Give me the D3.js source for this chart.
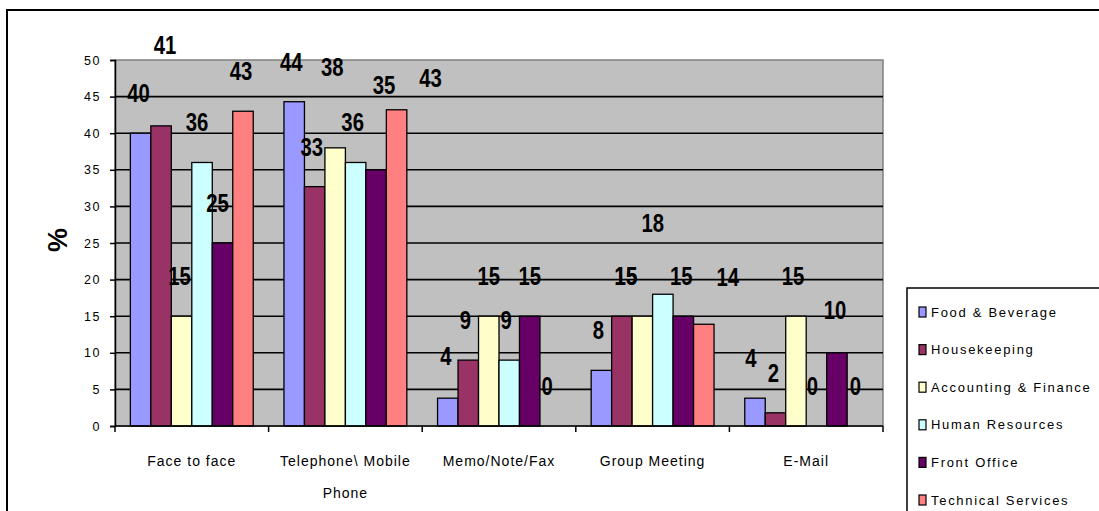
<!DOCTYPE html>
<html>
<head>
<meta charset="utf-8">
<script src="https://cdn.jsdelivr.net/npm/d3@7"></script>
<style>
  html, body { margin: 0; padding: 0; background: #fff; }
  svg { display: block; }
</style>
</head>
<body>
<svg id="chart" width="1099" height="511"></svg>
<script>
// ---- data ----
const categories = ["Face to face", "Telephone\\ Mobile Phone", "Memo/Note/Fax", "Group Meeting", "E-Mail"];
const seriesNames = ["Food & Beverage", "Housekeeping", "Accounting & Finance", "Human Resources", "Front Office", "Technical Services"];
const foodBeverage   = [40, 44.3, 3.8, 7.6, 3.8];
const housekeeping   = [41, 32.7, 9, 15, 1.8];
const accounting     = [15, 38, 15, 15, 15];
const humanResources = [36, 36, 9, 18, 0];
const frontOffice    = [25, 35, 15, 15, 10];
const technical      = [43, 43.2, 0, 13.9, 0];
const yTicks = [0, 5, 10, 15, 20, 25, 30, 35, 40, 45, 50];

// ---- styling / layout (not data) ----
const seriesColors = ["#9999ff", "#993366", "#ffffcc", "#ccffff", "#660066", "#ff8080"];
// label nudges [dx, dy] in px per series x category (odd Excel label placement)
const labelNudge = [
  [[0,0],[-1,0],[0,-2],[-1,0],[-2,0]],
  [[6,-41],[-1,0],[-1,0],[6,0],[0,0]],
  [[0,0],[-1,-41],[2,0],[-14.48,0],[-1,0]],
  [[-3,0],[-1,0],[-1,0],[-8,-31],[-2,0]],
  [[-3,0],[10,-45],[2,0],[0,0],[0,-3]],
  [[0,0],[36,8],[-1,0],[26,-7],[0,0]]
];

const allSeries = [foodBeverage, housekeeping, accounting, humanResources, frontOffice, technical];

const svg = d3.select("#chart");
const plot = { left: 115, right: 883, top: 60, bottom: 426 };

const x0 = d3.scaleBand().domain(categories).range([plot.left, plot.right]).paddingInner(0).paddingOuter(0);
const x1 = d3.scaleBand().domain(d3.range(seriesNames.length))
  .range([x0.bandwidth() * 0.1, x0.bandwidth() * 0.9]).paddingInner(0);
const y = d3.scaleLinear().domain([0, 50]).range([plot.bottom, plot.top]);

// outer chart border
svg.append("rect").attr("x", 7).attr("y", 10).attr("width", 1200).attr("height", 600)
  .attr("fill", "none").attr("stroke", "#000").attr("stroke-width", 2);

// plot area
svg.append("rect").attr("x", plot.left).attr("y", plot.top)
  .attr("width", plot.right - plot.left).attr("height", plot.bottom - plot.top)
  .attr("fill", "#c0c0c0").attr("stroke", "#808080").attr("stroke-width", 1.5);

// gridlines
svg.append("g").selectAll("line").data(yTicks.filter(t => t > 0 && t < 50)).join("line")
  .attr("x1", plot.left).attr("x2", plot.right)
  .attr("y1", d => y(d)).attr("y2", d => y(d))
  .attr("stroke", "#000").attr("stroke-width", 1.6);

// y axis
const yAxis = d3.axisLeft(y).tickValues(yTicks).tickSize(5).tickPadding(9).tickFormat(d3.format("d"));
const gy = svg.append("g").attr("transform", `translate(${plot.left},0)`).call(yAxis);
gy.select(".domain").attr("stroke", "#000").attr("stroke-width", 1.5);
gy.selectAll(".tick line").attr("stroke", "#000").attr("stroke-width", 1.5);
gy.selectAll(".tick text").attr("font-family", "Liberation Sans, Arial, sans-serif")
  .attr("font-size", 12.5).attr("letter-spacing", "1.5px").attr("fill", "#000");

// bars
const groups = svg.append("g").selectAll("g").data(categories).join("g")
  .attr("transform", d => `translate(${x0(d)},0)`);

groups.selectAll("rect").data((c, ci) => allSeries.map((s, si) => ({ si, ci, v: s[ci] }))).join("rect")
  .attr("x", d => x1(d.si))
  .attr("width", x1.bandwidth())
  .attr("y", d => y(d.v))
  .attr("height", d => y(0) - y(d.v))
  .attr("fill", d => seriesColors[d.si])
  .attr("stroke", "#000").attr("stroke-width", d => d.v > 0 ? 1.3 : 0);

// x axis
const xAxisLine = svg.append("g");
xAxisLine.append("line").attr("x1", plot.left).attr("x2", plot.right)
  .attr("y1", plot.bottom).attr("y2", plot.bottom).attr("stroke", "#000").attr("stroke-width", 1.5);
const boundaries = categories.map(c => x0(c)).concat([plot.right]);
xAxisLine.selectAll("line.tk").data(boundaries).join("line").attr("class", "tk")
  .attr("x1", d => d).attr("x2", d => d).attr("y1", plot.bottom).attr("y2", plot.bottom + 6)
  .attr("stroke", "#000").attr("stroke-width", 1.5);

// category labels
const catText = svg.append("g").selectAll("text").data(categories).join("text")
  .attr("x", d => x0(d) + x0.bandwidth() / 2)
  .attr("y", 466)
  .attr("text-anchor", "middle")
  .attr("font-family", "Liberation Sans, Arial, sans-serif")
  .attr("font-size", 14).attr("letter-spacing", "1px").attr("fill", "#000");
catText.each(function(d) {
  const parts = d === "Telephone\\ Mobile Phone" ? ["Telephone\\ Mobile", "Phone"] : [d];
  const t = d3.select(this);
  parts.forEach((p, i) => {
    t.append("tspan").attr("x", x0(d) + x0.bandwidth() / 2).attr("dy", i === 0 ? 0 : 32).text(p);
  });
});

// data labels (condensed bold look via horizontal scale)
svg.append("g").selectAll("g").data(categories).join("g")
  .attr("transform", d => `translate(${x0(d)},0)`)
  .selectAll("text").data((c, ci) => allSeries.map((s, si) => ({ si, ci, v: s[ci] }))).join("text")
  .attr("transform", d => {
    const lx = x1(d.si) + x1.bandwidth() / 2 - 2 + labelNudge[d.si][d.ci][0];
    const ly = y(d.v) - 40 + 9 + labelNudge[d.si][d.ci][1];
    return `translate(${lx},${ly}) scale(0.78,1)`;
  })
  .attr("text-anchor", "middle")
  .attr("font-family", "Liberation Sans, Arial, sans-serif")
  .attr("font-weight", "bold").attr("font-size", 26).attr("fill", "#000")
  .text(d => Math.round(d.v));

// y axis title
svg.append("text").attr("transform", "translate(67,240) rotate(-90)")
  .attr("text-anchor", "middle")
  .attr("font-family", "Liberation Sans, Arial, sans-serif")
  .attr("font-weight", "bold").attr("font-size", 27).attr("fill", "#000").text("%");

// legend
const legend = svg.append("g");
legend.append("rect").attr("x", 907).attr("y", 288).attr("width", 300).attr("height", 300)
  .attr("fill", "#fff").attr("stroke", "#000").attr("stroke-width", 1.5);
const li = legend.selectAll("g.item").data(seriesNames).join("g").attr("class", "item")
  .attr("transform", (d, i) => `translate(919,${312 + i * 37.6})`);
li.append("rect").attr("x", 0).attr("y", -5).attr("width", 7).attr("height", 10)
  .attr("fill", (d, i) => seriesColors[i]).attr("stroke", "#000").attr("stroke-width", 1.2);
li.append("text").attr("x", 12).attr("y", 4.5)
  .attr("font-family", "Liberation Sans, Arial, sans-serif")
  .attr("font-size", 13).attr("letter-spacing", "1.7px").attr("fill", "#000").text(d => d);
</script>
</body>
</html>
